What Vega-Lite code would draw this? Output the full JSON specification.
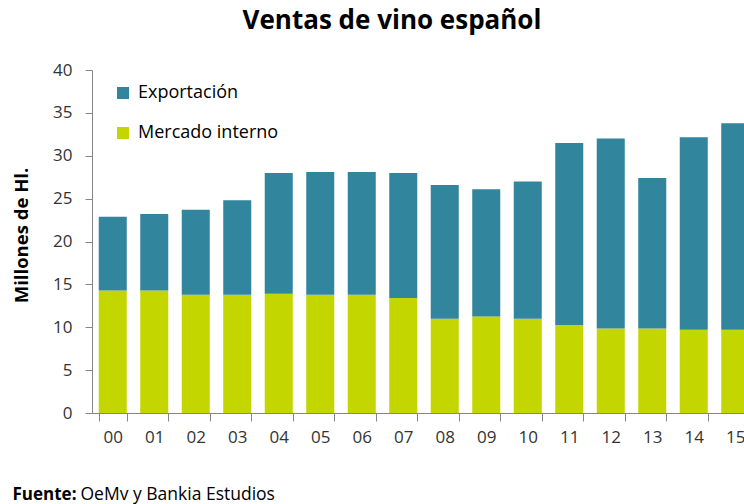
{
  "$schema": "https://vega.github.io/schema/vega-lite/v6.json",
  "width": 652,
  "height": 343,
  "autosize": {"type": "none"},
  "padding": {"left": 92, "top": 70, "right": 0, "bottom": 91},
  "background": "white",
  "title": {"text": "Ventas de vino español", "fontSize": 26, "font": "Open Sans", "fontWeight": "bold", "color": "#000000", "anchor": "middle", "frame": "group", "offset": 27, "dx": -26},
  "config": {"view": {"stroke": null}, "font": "Open Sans"},
  "data": {"values": [
    {"Año": "00", "Componente": "Mercado interno", "Valor": 14.3},
    {"Año": "00", "Componente": "Exportación", "Valor": 8.6},
    {"Año": "01", "Componente": "Mercado interno", "Valor": 14.3},
    {"Año": "01", "Componente": "Exportación", "Valor": 8.9},
    {"Año": "02", "Componente": "Mercado interno", "Valor": 13.8},
    {"Año": "02", "Componente": "Exportación", "Valor": 9.9},
    {"Año": "03", "Componente": "Mercado interno", "Valor": 13.8},
    {"Año": "03", "Componente": "Exportación", "Valor": 11.0},
    {"Año": "04", "Componente": "Mercado interno", "Valor": 13.9},
    {"Año": "04", "Componente": "Exportación", "Valor": 14.1},
    {"Año": "05", "Componente": "Mercado interno", "Valor": 13.8},
    {"Año": "05", "Componente": "Exportación", "Valor": 14.3},
    {"Año": "06", "Componente": "Mercado interno", "Valor": 13.8},
    {"Año": "06", "Componente": "Exportación", "Valor": 14.3},
    {"Año": "07", "Componente": "Mercado interno", "Valor": 13.4},
    {"Año": "07", "Componente": "Exportación", "Valor": 14.6},
    {"Año": "08", "Componente": "Mercado interno", "Valor": 11.0},
    {"Año": "08", "Componente": "Exportación", "Valor": 15.6},
    {"Año": "09", "Componente": "Mercado interno", "Valor": 11.25},
    {"Año": "09", "Componente": "Exportación", "Valor": 14.85},
    {"Año": "10", "Componente": "Mercado interno", "Valor": 11.0},
    {"Año": "10", "Componente": "Exportación", "Valor": 16.0},
    {"Año": "11", "Componente": "Mercado interno", "Valor": 10.25},
    {"Año": "11", "Componente": "Exportación", "Valor": 21.25},
    {"Año": "12", "Componente": "Mercado interno", "Valor": 9.85},
    {"Año": "12", "Componente": "Exportación", "Valor": 22.15},
    {"Año": "13", "Componente": "Mercado interno", "Valor": 9.85},
    {"Año": "13", "Componente": "Exportación", "Valor": 17.55},
    {"Año": "14", "Componente": "Mercado interno", "Valor": 9.7},
    {"Año": "14", "Componente": "Exportación", "Valor": 22.45},
    {"Año": "15", "Componente": "Mercado interno", "Valor": 9.7},
    {"Año": "15", "Componente": "Exportación", "Valor": 24.1}
  ]},
  "resolve": {"scale": {"x": "independent"}, "axis": {"x": "independent"}},
  "layer": [
    {
      "mark": {"type": "bar"},
      "encoding": {
        "x": {
          "field": "Año", "type": "nominal",
          "scale": {"range": [0, 664], "paddingInner": 0.325, "paddingOuter": 0.1625},
          "axis": {
            "labelAngle": 0, "tickBand": "extent", "tickSize": 8, "tickColor": "#868686",
            "domainColor": "#868686", "labelFontSize": 17, "labelColor": "#333333", "labelPadding": 8,
            "title": "Fuente:", "titleFontSize": 17, "titleFontWeight": "bold", "titleColor": "#000000",
            "titleAnchor": null, "titleAlign": "left", "titleBaseline": "alphabetic", "titleX": -80, "titleY": 86
          }
        },
        "y": {
          "field": "Valor", "type": "quantitative", "stack": "zero",
          "scale": {"domain": [0, 40], "nice": false},
          "axis": {
            "values": [0, 5, 10, 15, 20, 25, 30, 35, 40], "grid": false,
            "domainColor": "#868686", "tickColor": "#868686", "tickSize": 7, "labelPadding": 13,
            "labelFontSize": 17, "labelColor": "#333333",
            "title": "Millones de Hl.", "titleFontSize": 18.5, "titleFontWeight": "bold", "titleColor": "#000000",
            "titleX": -71, "titleY": 165, "titleBaseline": "middle", "titleAnchor": null, "titleAlign": "center"
          }
        },
        "color": {
          "field": "Componente", "type": "nominal",
          "scale": {"domain": ["Exportación", "Mercado interno"], "range": ["#31859C", "#C4D600"]},
          "legend": {
            "title": null, "orient": "none", "legendX": 22, "legendY": 14,
            "symbolType": "square", "symbolSize": 144, "symbolStrokeWidth": 0, "symbolOpacity": 1,
            "labelFontSize": 18, "labelColor": "#000000", "labelOffset": 6, "rowPadding": 22
          }
        },
        "order": {"field": "Componente", "sort": "descending"}
      }
    },
    {
      "mark": {"type": "tick", "opacity": 0},
      "encoding": {
        "x": {
          "field": "Año", "type": "nominal",
          "axis": {
            "orient": "bottom", "labels": false, "ticks": false, "domain": false,
            "title": "OeMv y Bankia Estudios", "titleFontSize": 17.5, "titleFontWeight": "normal", "titleColor": "#000000",
            "titleAnchor": null, "titleAlign": "left", "titleBaseline": "alphabetic", "titleX": -12, "titleY": 86
          }
        }
      }
    }
  ]
}
